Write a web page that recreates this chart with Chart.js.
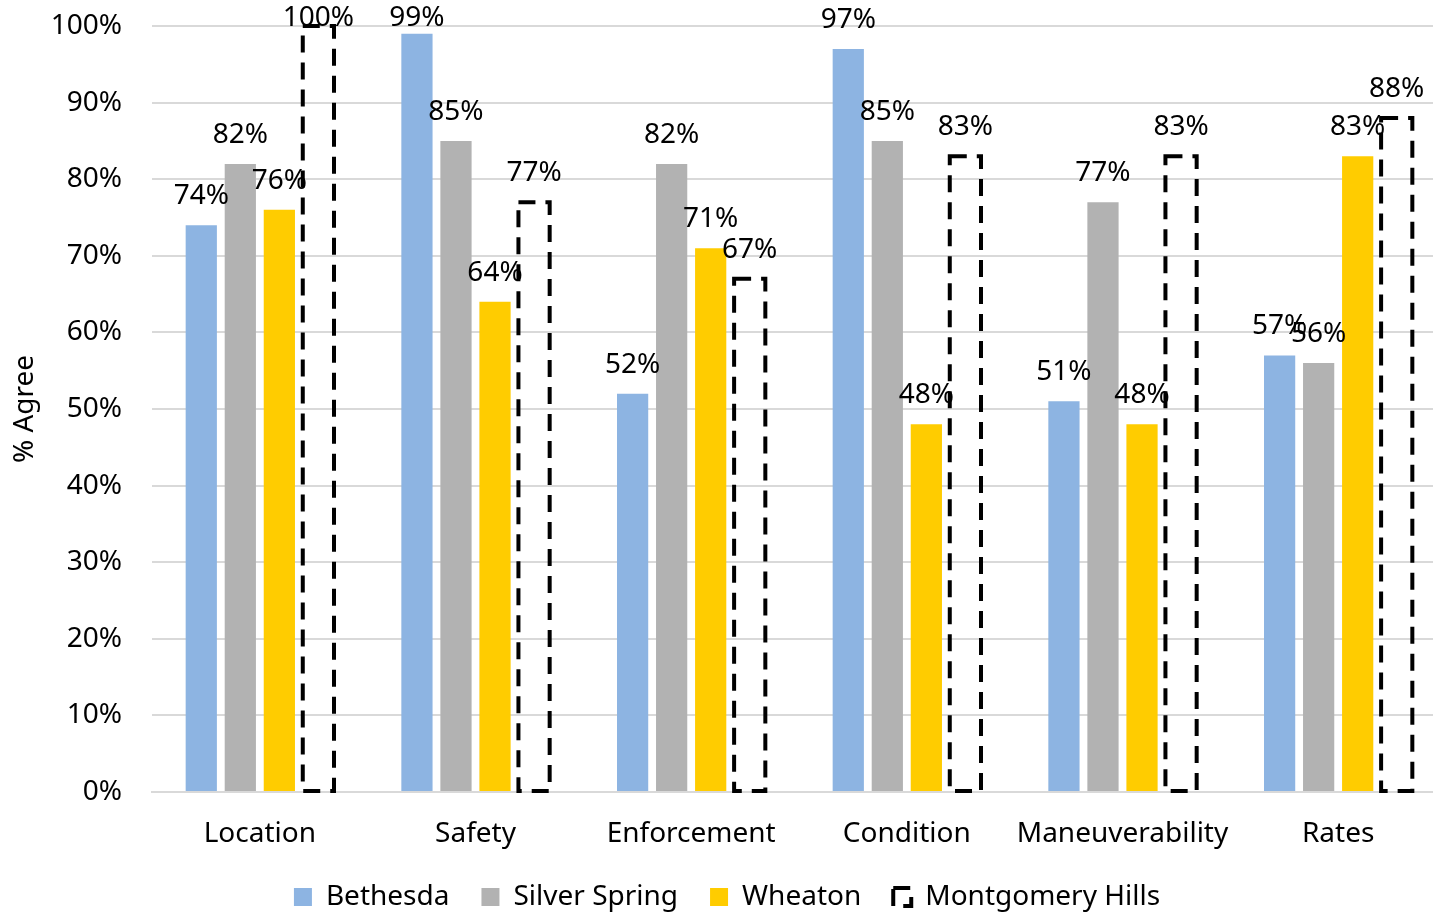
<!DOCTYPE html>
<html>
<head>
<meta charset="utf-8">
<script src="https://cdn.jsdelivr.net/npm/chart.js@4.4.0/dist/chart.umd.min.js"></script>
<style>
    html, body { margin: 0; padding: 0; background: #fff; overflow: hidden; }
    /* the plot runs a little past the right edge of the window */
    #wrap { width: 1446px; height: 913px; }
</style>
</head>
<body>
<div id="wrap"><canvas id="agreeChart"></canvas></div>
<script>
var categories = ['Location', 'Safety', 'Enforcement', 'Condition', 'Maneuverability', 'Rates'];
var bethesda = [74, 99, 52, 97, 51, 57];
var silverSpring = [82, 85, 82, 85, 77, 56];
var wheaton = [76, 64, 71, 48, 48, 83];
var montgomeryHills = [100, 77, 67, 83, 83, 88];

var fontFamily = "'Noto Sans', 'Open Sans', sans-serif";
var dashPattern = [17, 10];
var dashedIndex = 3;

// bars don't support dashed borders, so outline the Montgomery Hills bars here,
// then write the percentage above every bar
var barLabels = {
    id: 'barLabels',
    afterDatasetsDraw: function(chart) {
        var ctx = chart.ctx;
        ctx.save();
        ctx.strokeStyle = '#000';
        ctx.lineWidth = 4;
        ctx.setLineDash(dashPattern);
        chart.getDatasetMeta(dashedIndex).data.forEach(function(bar) {
            var left = bar.x - bar.width / 2;
            ctx.strokeRect(left, bar.y, bar.width, bar.base - bar.y);
        });
        ctx.setLineDash([]);

        ctx.font = '28px ' + fontFamily;
        ctx.fillStyle = '#000';
        ctx.textAlign = 'center';
        ctx.textBaseline = 'middle';
        chart.data.datasets.forEach(function(ds, i) {
            var meta = chart.getDatasetMeta(i);
            meta.data.forEach(function(bar, j) {
                var y = Math.max(bar.y - 29, chart.chartArea.top - 8);
                ctx.fillText(ds.data[j] + '%', bar.x, y);
            });
        });
        ctx.restore();
    }
};

var agreeChart = new Chart(document.getElementById('agreeChart'), {
    type: 'bar',
    data: {
        labels: categories,
        datasets: [{
            label: 'Bethesda',
            data: bethesda,
            backgroundColor: '#8db4e2',
            borderWidth: 0
        },
        {
            label: 'Silver Spring',
            data: silverSpring,
            backgroundColor: '#b2b2b2',
            borderWidth: 0
        },
        {
            label: 'Wheaton',
            data: wheaton,
            backgroundColor: '#ffcc00',
            borderWidth: 0
        },
        {
            label: 'Montgomery Hills',
            data: montgomeryHills,
            backgroundColor: 'rgba(255,255,255,0)',
            borderColor: '#000',
            borderWidth: 0
        }]
    },
    options: {
        responsive: true,
        maintainAspectRatio: false,
        animation: false,
        datasets: {
            bar: {
                categoryPercentage: 0.724,
                barPercentage: 0.8
            }
        },
        layout: {
            padding: { top: 26, left: 8, right: 0, bottom: 0 }
        },
        scales: {
            x: {
                grid: { display: false, drawTicks: false },
                border: { color: '#d9d9d9', width: 2 },
                ticks: {
                    color: '#000',
                    padding: 25,
                    maxRotation: 0,
                    minRotation: 0,
                    autoSkip: false,
                    font: { family: fontFamily, size: 28 }
                },
                afterFit: function(scale) {
                    scale.height = 59;
                }
            },
            y: {
                min: 0,
                max: 100,
                grid: { color: '#d9d9d9', lineWidth: 2, drawTicks: false },
                border: { display: false },
                ticks: {
                    stepSize: 10,
                    color: '#000',
                    padding: 30,
                    font: { family: fontFamily, size: 28 },
                    callback: function(v) { return v + '%'; }
                },
                title: {
                    display: true,
                    text: '% Agree',
                    color: '#000',
                    padding: { top: 0, bottom: 0 },
                    font: { family: fontFamily, size: 28 }
                },
                afterFit: function(scale) {
                    // fixed axis width; don't let the tick padding push the plot down
                    scale.width = 144;
                    scale.paddingTop = 0;
                    scale.paddingBottom = 0;
                }
            }
        },
        plugins: {
            legend: {
                position: 'bottom',
                labels: {
                    color: '#000',
                    boxWidth: 18,
                    boxHeight: 18,
                    padding: 32,
                    font: { family: fontFamily, size: 28 },
                    generateLabels: function(chart) {
                        var items = Chart.defaults.plugins.legend.labels.generateLabels(chart);
                        items.forEach(function(item) {
                            if (item.datasetIndex === dashedIndex) {
                                item.lineWidth = 4;
                                item.strokeStyle = '#000';
                                item.fillStyle = 'rgba(255,255,255,0)';
                                item.lineDash = dashPattern;
                            }
                        });
                        return items;
                    }
                }
            },
            tooltip: { enabled: false }
        }
    },
    plugins: [barLabels]
});

// keep the wide item spacing but a shorter legend row
var legendFit = agreeChart.legend.fit;
agreeChart.legend.fit = function() {
    legendFit.call(this);
    this.height = 62;
};
agreeChart.update();
</script>
</body>
</html>
